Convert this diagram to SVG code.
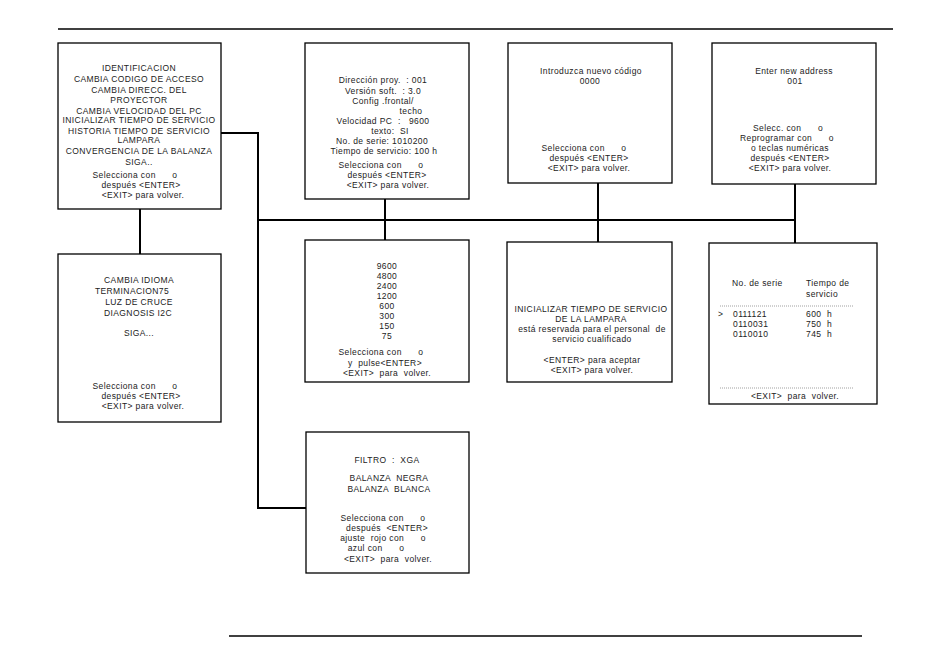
<svg xmlns="http://www.w3.org/2000/svg" width="950" height="649" viewBox="0 0 950 649">
<style>
.box{fill:#fff;stroke:#000;stroke-width:1.3}
.t{font-family:"Liberation Sans",Arial,sans-serif;font-size:8.5px;letter-spacing:0.4px;fill:#222;text-anchor:middle;white-space:pre}
.l{text-anchor:start}
.conn{stroke:#000;stroke-width:2;fill:none}
.rule{stroke:#000;stroke-width:1.5}
.dash{stroke:#888;stroke-width:0.8;stroke-dasharray:1,1}
</style>
<rect width="950" height="649" fill="#fff"/>
<line class="rule" x1="58" y1="29" x2="893" y2="29"/>
<line class="rule" x1="229" y1="636" x2="862" y2="636"/>

<g id="connectors">
<path class="conn" d="M140,209 V254"/>
<path class="conn" d="M221,133 H258 V508 H306"/>
<path class="conn" d="M258,220 H795"/>
<path class="conn" d="M385,199 V240"/>
<path class="conn" d="M598,183 V242"/>
<path class="conn" d="M795,184 V243"/>
</g>

<g id="menu1">
<rect class="box" x="58" y="43" width="163" height="166"/>
<text class="t" x="139" y="71">IDENTIFICACION</text>
<text class="t" x="139" y="82">CAMBIA CODIGO DE ACCESO</text>
<text class="t" x="139" y="93">CAMBIA DIRECC. DEL</text>
<text class="t" x="139" y="103">PROYECTOR</text>
<text class="t" x="139" y="114">CAMBIA VELOCIDAD DEL PC</text>
<text class="t" x="139" y="123">INICIALIZAR TIEMPO DE SERVICIO</text>
<text class="t" x="139" y="134">HISTORIA TIEMPO DE SERVICIO</text>
<text class="t" x="139" y="143">LAMPARA</text>
<text class="t" x="139" y="154">CONVERGENCIA DE LA BALANZA</text>
<text class="t" x="139" y="165">SIGA..</text>
<text class="t" x="135" y="178">Selecciona con      o</text>
<text class="t" x="141" y="188">después &lt;ENTER&gt;</text>
<text class="t" x="143" y="198">&lt;EXIT&gt; para volver.</text>
</g>

<g id="menu2">
<rect class="box" x="58" y="254" width="163" height="168"/>
<text class="t" x="139" y="283">CAMBIA IDIOMA</text>
<text class="t" x="132" y="294">TERMINACION75</text>
<text class="t" x="139" y="305">LUZ DE CRUCE</text>
<text class="t" x="138" y="316">DIAGNOSIS I2C</text>
<text class="t" x="139" y="336">SIGA...</text>
<text class="t" x="135" y="389">Selecciona con      o</text>
<text class="t" x="141" y="399">después &lt;ENTER&gt;</text>
<text class="t" x="143" y="409">&lt;EXIT&gt; para volver.</text>
</g>

<g id="identificacion">
<rect class="box" x="305" y="43" width="164" height="156"/>
<text class="t" x="383" y="83">Dirección proy.  : 001</text>
<text class="t" x="383" y="94">Versión soft.  : 3.0</text>
<text class="t" x="383" y="104">Config .frontal/</text>
<text class="t" x="411" y="114">techo</text>
<text class="t" x="383" y="124">Velocidad PC  :   9600</text>
<text class="t" x="390" y="134">texto:  SI</text>
<text class="t" x="382" y="144">No. de serie: 1010200</text>
<text class="t" x="384" y="154">Tiempo de servicio: 100 h</text>
<text class="t" x="381" y="168">Selecciona con      o</text>
<text class="t" x="387" y="178">después &lt;ENTER&gt;</text>
<text class="t" x="388" y="188">&lt;EXIT&gt; para volver.</text>
</g>

<g id="codigo">
<rect class="box" x="508" y="43" width="164" height="140"/>
<text class="t" x="591" y="74">Introduzca nuevo código</text>
<text class="t" x="590" y="84">0000</text>
<text class="t" x="584" y="151">Selecciona con      o</text>
<text class="t" x="589" y="161">después &lt;ENTER&gt;</text>
<text class="t" x="589" y="171">&lt;EXIT&gt; para volver.</text>
</g>

<g id="direccion">
<rect class="box" x="712" y="43" width="164" height="141"/>
<text class="t" x="794" y="74">Enter new address</text>
<text class="t" x="795" y="84">001</text>
<text class="t" x="788" y="131">Selecc. con      o</text>
<text class="t" x="787" y="141">Reprogramar con      o</text>
<text class="t" x="790" y="151">o teclas numéricas</text>
<text class="t" x="790" y="161">después &lt;ENTER&gt;</text>
<text class="t" x="790" y="171">&lt;EXIT&gt; para volver.</text>
</g>

<g id="velocidad">
<rect class="box" x="305" y="240" width="164" height="142"/>
<text class="t" x="387" y="269">9600</text>
<text class="t" x="387" y="279">4800</text>
<text class="t" x="387" y="289">2400</text>
<text class="t" x="387" y="299">1200</text>
<text class="t" x="387" y="309">600</text>
<text class="t" x="387" y="319">300</text>
<text class="t" x="387" y="329">150</text>
<text class="t" x="387" y="339">75</text>
<text class="t" x="381" y="355">Selecciona con      o</text>
<text class="t" x="385" y="366">y  pulse&lt;ENTER&gt;</text>
<text class="t" x="387" y="376">&lt;EXIT&gt;  para  volver.</text>
</g>

<g id="inicializar">
<rect class="box" x="507" y="242" width="165" height="140"/>
<text class="t" x="591" y="312">INICIALIZAR TIEMPO DE SERVICIO</text>
<text class="t" x="591" y="322">DE LA LAMPARA</text>
<text class="t" x="592" y="332">está reservada para el personal  de</text>
<text class="t" x="592" y="342">servicio cualificado</text>
<text class="t" x="592" y="363">&lt;ENTER&gt; para aceptar</text>
<text class="t" x="592" y="373">&lt;EXIT&gt; para volver.</text>
</g>

<g id="historia">
<rect class="box" x="709" y="243" width="168" height="161"/>
<text class="t l" x="732" y="286">No. de serie</text>
<text class="t l" x="806" y="286">Tiempo de</text>
<text class="t l" x="806" y="297">servicio</text>
<line class="dash" x1="720" y1="306" x2="853" y2="306"/>
<text class="t l" x="718" y="317">&gt;</text>
<text class="t l" x="733" y="317">0111121</text>
<text class="t l" x="806" y="317">600  h</text>
<text class="t l" x="733" y="327">0110031</text>
<text class="t l" x="806" y="327">750  h</text>
<text class="t l" x="733" y="337">0110010</text>
<text class="t l" x="806" y="337">745  h</text>
<line class="dash" x1="720" y1="388" x2="853" y2="388"/>
<text class="t" x="795" y="399">&lt;EXIT&gt;  para  volver.</text>
</g>

<g id="convergencia">
<rect class="box" x="306" y="432" width="163" height="141"/>
<text class="t" x="387" y="463">FILTRO  :  XGA</text>
<text class="t" x="389" y="481">BALANZA  NEGRA</text>
<text class="t" x="389" y="492">BALANZA  BLANCA</text>
<text class="t" x="383" y="521">Selecciona con      o</text>
<text class="t" x="387" y="531">después  &lt;ENTER&gt;</text>
<text class="t" x="383" y="541">ajuste  rojo con      o</text>
<text class="t" x="376" y="551">azul con      o</text>
<text class="t" x="388" y="562">&lt;EXIT&gt;  para  volver.</text>
</g>
</svg>
